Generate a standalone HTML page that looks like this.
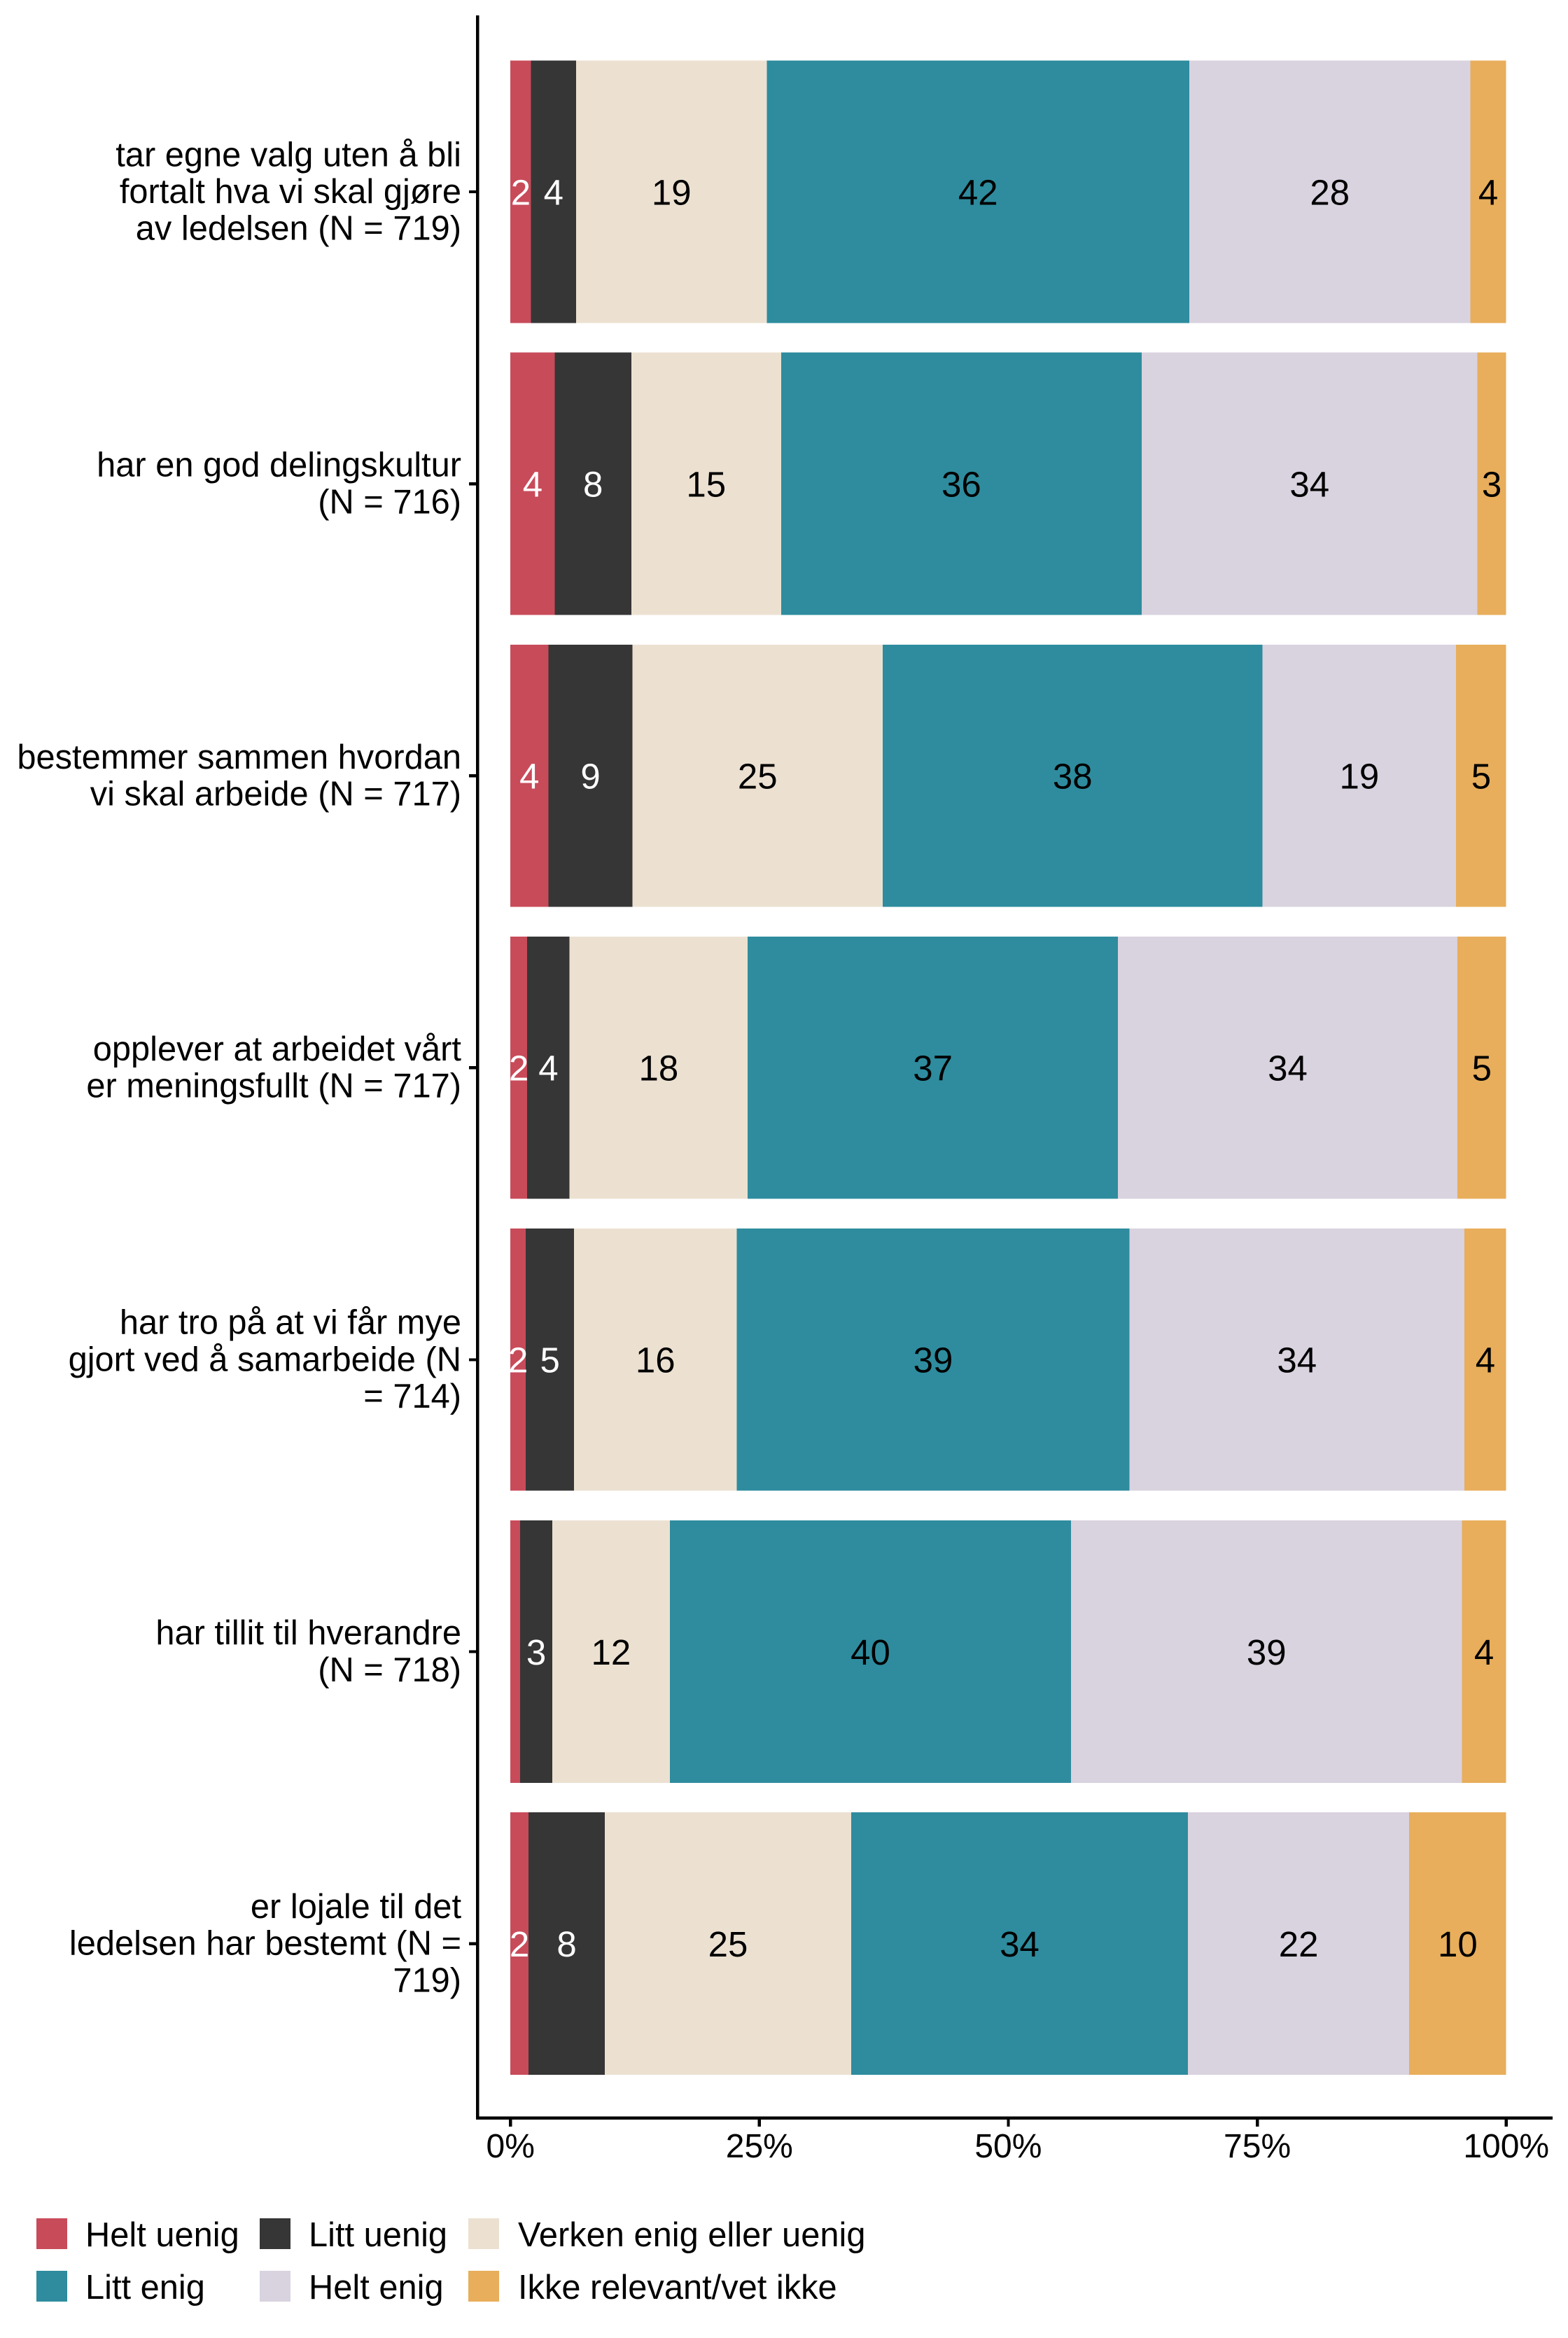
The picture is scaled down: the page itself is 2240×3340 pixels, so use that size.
<!DOCTYPE html>
<html>
<head>
<meta charset="utf-8">
<style>
  html, body { margin: 0; padding: 0; background: #ffffff; }
  body { width: 2240px; height: 3340px; overflow: hidden; }
  svg { display: block; }
  text { font-family: "Liberation Sans", Arial, sans-serif; }
</style>
</head>
<body>
<svg xmlns="http://www.w3.org/2000/svg" width="2240" height="3340" viewBox="0 0 2240 3340">
  <rect x="0" y="0" width="2240" height="3340" fill="#ffffff"/>

  <g shape-rendering="crispEdges">
    <!-- Bar 1 (top 86.6) -->
    <rect x="729.2" y="86.6" width="29.4" height="374.7" fill="#C84B5A"/>
    <rect x="758.6" y="86.6" width="64.3" height="374.7" fill="#363636"/>
    <rect x="822.9" y="86.6" width="272.7" height="374.7" fill="#ECE1D1"/>
    <rect x="1095.6" y="86.6" width="603.4" height="374.7" fill="#2E8C9E"/>
    <rect x="1699" y="86.6" width="401.3" height="374.7" fill="#D9D2DF"/>
    <rect x="2100.3" y="86.6" width="51.4" height="374.7" fill="#E8AE5B"/>

    <!-- Bar 2 (top 503.7) -->
    <rect x="729.2" y="503.7" width="63.3" height="374.7" fill="#C84B5A"/>
    <rect x="792.5" y="503.7" width="109.3" height="374.7" fill="#363636"/>
    <rect x="901.8" y="503.7" width="214" height="374.7" fill="#ECE1D1"/>
    <rect x="1115.8" y="503.7" width="515.2" height="374.7" fill="#2E8C9E"/>
    <rect x="1631" y="503.7" width="479.4" height="374.7" fill="#D9D2DF"/>
    <rect x="2110.4" y="503.7" width="41.3" height="374.7" fill="#E8AE5B"/>

    <!-- Bar 3 (top 920.8) -->
    <rect x="729.2" y="920.8" width="54.2" height="374.7" fill="#C84B5A"/>
    <rect x="783.4" y="920.8" width="120.3" height="374.7" fill="#363636"/>
    <rect x="903.7" y="920.8" width="357.2" height="374.7" fill="#ECE1D1"/>
    <rect x="1260.9" y="920.8" width="542.8" height="374.7" fill="#2E8C9E"/>
    <rect x="1803.7" y="920.8" width="276.4" height="374.7" fill="#D9D2DF"/>
    <rect x="2080.1" y="920.8" width="71.6" height="374.7" fill="#E8AE5B"/>

    <!-- Bar 4 (top 1337.9) -->
    <rect x="729.2" y="1337.9" width="23.9" height="374.7" fill="#C84B5A"/>
    <rect x="753.1" y="1337.9" width="60.6" height="374.7" fill="#363636"/>
    <rect x="813.7" y="1337.9" width="254.4" height="374.7" fill="#ECE1D1"/>
    <rect x="1068.1" y="1337.9" width="528.9" height="374.7" fill="#2E8C9E"/>
    <rect x="1597" y="1337.9" width="484.9" height="374.7" fill="#D9D2DF"/>
    <rect x="2081.9" y="1337.9" width="69.8" height="374.7" fill="#E8AE5B"/>

    <!-- Bar 5 (top 1755) -->
    <rect x="729.2" y="1755" width="22" height="374.7" fill="#C84B5A"/>
    <rect x="751.2" y="1755" width="68.9" height="374.7" fill="#363636"/>
    <rect x="820.1" y="1755" width="232.3" height="374.7" fill="#ECE1D1"/>
    <rect x="1052.4" y="1755" width="561.2" height="374.7" fill="#2E8C9E"/>
    <rect x="1613.6" y="1755" width="478.4" height="374.7" fill="#D9D2DF"/>
    <rect x="2092" y="1755" width="59.7" height="374.7" fill="#E8AE5B"/>

    <!-- Bar 6 (top 2172.1) -->
    <rect x="729.2" y="2172.1" width="13.8" height="374.7" fill="#C84B5A"/>
    <rect x="743" y="2172.1" width="45.9" height="374.7" fill="#363636"/>
    <rect x="788.9" y="2172.1" width="168" height="374.7" fill="#ECE1D1"/>
    <rect x="956.9" y="2172.1" width="573.1" height="374.7" fill="#2E8C9E"/>
    <rect x="1530" y="2172.1" width="558.4" height="374.7" fill="#D9D2DF"/>
    <rect x="2088.4" y="2172.1" width="63.3" height="374.7" fill="#E8AE5B"/>

    <!-- Bar 7 (top 2589.2) -->
    <rect x="729.2" y="2589.2" width="25.7" height="374.7" fill="#C84B5A"/>
    <rect x="754.9" y="2589.2" width="109.3" height="374.7" fill="#363636"/>
    <rect x="864.2" y="2589.2" width="351.7" height="374.7" fill="#ECE1D1"/>
    <rect x="1215.9" y="2589.2" width="481.2" height="374.7" fill="#2E8C9E"/>
    <rect x="1697.1" y="2589.2" width="316" height="374.7" fill="#D9D2DF"/>
    <rect x="2013.1" y="2589.2" width="138.6" height="374.7" fill="#E8AE5B"/>
  </g>

  <!-- Data labels -->
  <g font-size="51" text-anchor="middle">
    <text x="743.9" y="292.3" fill="#ffffff">2</text>
    <text x="790.8" y="292.3" fill="#ffffff">4</text>
    <text x="959.3" y="292.3" fill="#000000">19</text>
    <text x="1397.3" y="292.3" fill="#000000">42</text>
    <text x="1899.7" y="292.3" fill="#000000">28</text>
    <text x="2126" y="292.3" fill="#000000">4</text>

    <text x="760.9" y="709.4" fill="#ffffff">4</text>
    <text x="847.2" y="709.4" fill="#ffffff">8</text>
    <text x="1008.8" y="709.4" fill="#000000">15</text>
    <text x="1373.4" y="709.4" fill="#000000">36</text>
    <text x="1870.7" y="709.4" fill="#000000">34</text>
    <text x="2131.1" y="709.4" fill="#000000">3</text>

    <text x="756.3" y="1126.5" fill="#ffffff">4</text>
    <text x="843.6" y="1126.5" fill="#ffffff">9</text>
    <text x="1082.3" y="1126.5" fill="#000000">25</text>
    <text x="1532.3" y="1126.5" fill="#000000">38</text>
    <text x="1941.9" y="1126.5" fill="#000000">19</text>
    <text x="2115.9" y="1126.5" fill="#000000">5</text>

    <text x="741.2" y="1543.6" fill="#ffffff">2</text>
    <text x="783.4" y="1543.6" fill="#ffffff">4</text>
    <text x="940.9" y="1543.6" fill="#000000">18</text>
    <text x="1332.6" y="1543.6" fill="#000000">37</text>
    <text x="1839.5" y="1543.6" fill="#000000">34</text>
    <text x="2116.8" y="1543.6" fill="#000000">5</text>

    <text x="740.2" y="1960.7" fill="#ffffff">2</text>
    <text x="785.7" y="1960.7" fill="#ffffff">5</text>
    <text x="936.3" y="1960.7" fill="#000000">16</text>
    <text x="1333" y="1960.7" fill="#000000">39</text>
    <text x="1852.8" y="1960.7" fill="#000000">34</text>
    <text x="2121.9" y="1960.7" fill="#000000">4</text>

    <text x="766" y="2377.8" fill="#ffffff">3</text>
    <text x="872.9" y="2377.8" fill="#000000">12</text>
    <text x="1243.5" y="2377.8" fill="#000000">40</text>
    <text x="1809.2" y="2377.8" fill="#000000">39</text>
    <text x="2120" y="2377.8" fill="#000000">4</text>

    <text x="742" y="2794.9" fill="#ffffff">2</text>
    <text x="809.6" y="2794.9" fill="#ffffff">8</text>
    <text x="1040" y="2794.9" fill="#000000">25</text>
    <text x="1456.5" y="2794.9" fill="#000000">34</text>
    <text x="1855.1" y="2794.9" fill="#000000">22</text>
    <text x="2082.4" y="2794.9" fill="#000000">10</text>
  </g>

  <!-- Axes -->
  <g fill="#000000" shape-rendering="crispEdges">
    <rect x="680" y="22" width="4.3" height="3006"/>
    <rect x="680" y="3023.3" width="1538" height="4.7"/>
    <rect x="670" y="271.9" width="12" height="4.3"/>
    <rect x="670" y="689" width="12" height="4.3"/>
    <rect x="670" y="1106.1" width="12" height="4.3"/>
    <rect x="670" y="1523.2" width="12" height="4.3"/>
    <rect x="670" y="1940.3" width="12" height="4.3"/>
    <rect x="670" y="2357.4" width="12" height="4.3"/>
    <rect x="670" y="2774.5" width="12" height="4.3"/>
    <rect x="727.1" y="3027" width="4.3" height="11"/>
    <rect x="1082.7" y="3027" width="4.3" height="11"/>
    <rect x="1438.3" y="3027" width="4.3" height="11"/>
    <rect x="1794" y="3027" width="4.3" height="11"/>
    <rect x="2149.6" y="3027" width="4.3" height="11"/>
  </g>

  <!-- X tick labels -->
  <g font-size="48" text-anchor="middle" fill="#000000">
    <text x="729.2" y="3082">0%</text>
    <text x="1084.8" y="3082">25%</text>
    <text x="1440.4" y="3082">50%</text>
    <text x="1796.1" y="3082">75%</text>
    <text x="2151.7" y="3082">100%</text>
  </g>

  <!-- Y axis labels -->
  <g font-size="48.8" text-anchor="end" fill="#000000">
    <text x="659" y="237.3">tar egne valg uten å bli</text>
    <text x="659" y="290">fortalt hva vi skal gjøre</text>
    <text x="659" y="342.7">av ledelsen (N = 719)</text>

    <text x="659" y="680.7">har en god delingskultur</text>
    <text x="659" y="733.4">(N = 716)</text>

    <text x="659" y="1097.8">bestemmer sammen hvordan</text>
    <text x="659" y="1150.5">vi skal arbeide (N = 717)</text>

    <text x="659" y="1514.9">opplever at arbeidet vårt</text>
    <text x="659" y="1567.6">er meningsfullt (N = 717)</text>

    <text x="659" y="1905.7">har tro på at vi får mye</text>
    <text x="659" y="1958.4">gjort ved å samarbeide (N</text>
    <text x="659" y="2011.1">= 714)</text>

    <text x="659" y="2349.1">har tillit til hverandre</text>
    <text x="659" y="2401.8">(N = 718)</text>

    <text x="659" y="2739.9">er lojale til det</text>
    <text x="659" y="2792.6">ledelsen har bestemt (N =</text>
    <text x="659" y="2845.3">719)</text>
  </g>

  <!-- Legend -->
  <g shape-rendering="crispEdges">
    <rect x="52" y="3169" width="44" height="44" fill="#C84B5A"/>
    <rect x="371" y="3169" width="44" height="44" fill="#363636"/>
    <rect x="669" y="3169" width="44" height="44" fill="#ECE1D1"/>
    <rect x="52" y="3244" width="44" height="44" fill="#2E8C9E"/>
    <rect x="371" y="3244" width="44" height="44" fill="#D9D2DF"/>
    <rect x="669" y="3244" width="44" height="44" fill="#E8AE5B"/>
  </g>
  <g font-size="48.8" fill="#000000">
    <text x="122" y="3209">Helt uenig</text>
    <text x="441" y="3209">Litt uenig</text>
    <text x="740" y="3209">Verken enig eller uenig</text>
    <text x="122" y="3284">Litt enig</text>
    <text x="441" y="3284">Helt enig</text>
    <text x="740" y="3284">Ikke relevant/vet ikke</text>
  </g>
</svg>
</body>
</html>
